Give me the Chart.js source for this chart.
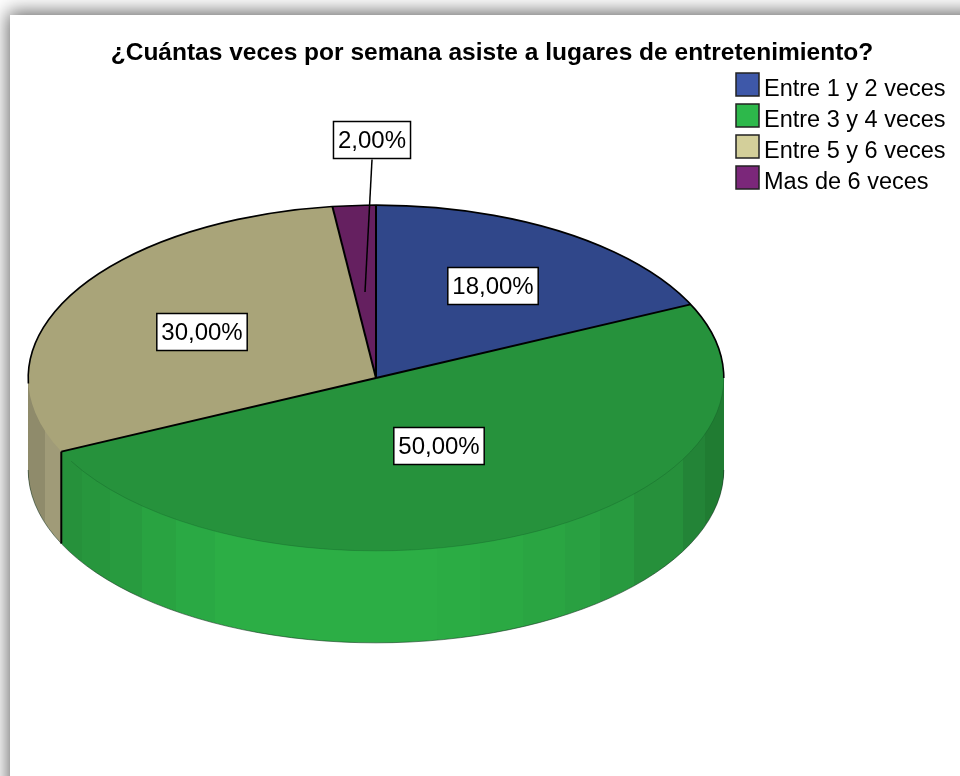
<!DOCTYPE html>
<html>
<head>
<meta charset="utf-8">
<script src="https://cdn.jsdelivr.net/npm/chart.js@4"></script>
<style>
    html, body { margin: 0; padding: 0; background: #fff; overflow: hidden; }
    #page { position: absolute; left: 10px; top: 15px; width: 1000px; height: 800px; background: #fff; box-shadow: -2px -3px 18px #666; }
    #pie { position: absolute; left: 0; top: 0; }
</style>
</head>
<body>
<div id="page"></div>
<canvas id="pie" width="960" height="776"></canvas>
<script>
const title = '¿Cuántas veces por semana asiste a lugares de entretenimiento?';
const categories = ['Entre 1 y 2 veces', 'Entre 3 y 4 veces', 'Entre 5 y 6 veces', 'Mas de 6 veces'];
const percents = [18, 50, 30, 2];

const topColors = ['#30478a', '#26923c', '#a9a479', '#652060'];
const legendColors = ['#3e58a9', '#2db84b', '#d3cf9a', '#7b277a'];

// the pie is laid out flat by Chart.js, then squashed onto this spot
const pieX = 376;
const pieY = 378;
const squash = 0.497;
const depth = 92;

// side wall facets: [right edge as a fraction of the pie width, colour]
const greenWall = [
    [0.078, '#26913b'], [0.117, '#27963d'], [0.164, '#289b3f'], [0.213, '#29a341'], [0.268, '#2aa944'],
    [0.587, '#2cae45'], [0.649, '#2bac44'], [0.711, '#2ba943'], [0.771, '#2aa542'], [0.822, '#29a041'],
    [0.871, '#289a3f'], [0.942, '#26903b'], [0.973, '#238437'], [1, '#207c32'],
];
const tanWall = [[0.024, '#8f8b6b'], [1, '#a09b78']];
const walls = [tanWall, greenWall, tanWall, tanWall];

// label box centres and the leader end, in pixels from the pie centre
const labelOffsets = [[117, -92], [63, 68], [-174, -46], [-4, -238]];
const leaderEnds = [null, null, null, [-11, -86]];

const fmt = (v) => v.toFixed(2).replace('.', ',') + '%';

function wallFill(ctx, arc, stops) {
    const left = arc.x - arc.outerRadius;
    const grad = ctx.createLinearGradient(left, 0, left + arc.outerRadius * 2, 0);
    let from = 0;
    stops.forEach(([to, color]) => {
        grad.addColorStop(from, color);
        grad.addColorStop(to, color);
        from = to;
    });
    return grad;
}

const slabPlugin = {
    id: 'slab',
    beforeDatasetDraw(chart) {
        const ctx = chart.ctx;
        const arcs = chart.getDatasetMeta(0).data;
        const a = arcs[0];
        ctx.save();
        ctx.translate(pieX, pieY);
        ctx.scale(1, squash);
        ctx.translate(-a.x, -a.y);

        // front slices last so they cover what is behind them
        const midY = (arc) => Math.sin((arc.startAngle + arc.endAngle) / 2);
        const order = arcs.map((arc, i) => i).sort((p, q) => midY(arcs[p]) - midY(arcs[q]));
        order.forEach((i) => {
            const arc = arcs[i];
            const saved = arc.options;
            const opts = Object.create(saved);
            opts.backgroundColor = wallFill(ctx, arc, walls[i]);
            opts.borderWidth = 0;
            arc.options = opts;
            for (let d = depth; d > 0; d--) {
                ctx.save();
                ctx.translate(0, d / squash);
                arc.draw(ctx);
                ctx.restore();
            }
            arc.options = saved;
        });
    },
    afterDatasetDraw(chart) {
        const ctx = chart.ctx;
        ctx.restore();

        const arcs = chart.getDatasetMeta(0).data;
        const r = arcs[0].outerRadius;
        const rimX = (ang) => pieX + Math.cos(ang) * r;
        const rimY = (ang) => pieY + Math.sin(ang) * r * squash;

        // faint front rim and bottom edge
        ctx.lineWidth = 0.6;
        ctx.strokeStyle = 'rgba(10,70,30,0.4)';
        ctx.beginPath();
        ctx.ellipse(pieX, pieY, r, r * squash, 0, 0, Math.PI * 0.84);
        ctx.stroke();
        ctx.lineWidth = 0.8;
        ctx.strokeStyle = 'rgba(20,50,30,0.7)';
        ctx.beginPath();
        ctx.ellipse(pieX, pieY + depth, r, r * squash, 0, 0, Math.PI);
        ctx.stroke();

        // back rim
        ctx.lineWidth = 1.6;
        ctx.strokeStyle = '#000';
        ctx.beginPath();
        ctx.ellipse(pieX, pieY, r, r * squash, 0, Math.PI * 0.99, Math.PI * 2.0);
        ctx.stroke();

        // slice edges
        ctx.lineWidth = 2;
        arcs.forEach((arc) => {
            ctx.beginPath();
            ctx.moveTo(pieX, pieY);
            ctx.lineTo(rimX(arc.startAngle), rimY(arc.startAngle));
            ctx.stroke();
        });

        // the cut where the wall shows
        const cut = arcs[1].endAngle;
        ctx.beginPath();
        ctx.moveTo(rimX(cut), rimY(cut));
        ctx.lineTo(rimX(cut), rimY(cut) + depth);
        ctx.stroke();

        // value labels
        ctx.font = '24px "Liberation Sans"';
        ctx.textAlign = 'center';
        ctx.textBaseline = 'middle';
        percents.forEach((v, i) => {
            const text = fmt(v);
            const cx = pieX + labelOffsets[i][0];
            const cy = pieY + labelOffsets[i][1];
            const w = ctx.measureText(text).width + 9;
            const h = 37;
            if (leaderEnds[i]) {
                ctx.lineWidth = 1.5;
                ctx.beginPath();
                ctx.moveTo(cx, cy + h / 2 + 1);
                ctx.lineTo(pieX + leaderEnds[i][0], pieY + leaderEnds[i][1]);
                ctx.stroke();
            }
            ctx.fillStyle = '#fff';
            ctx.fillRect(cx - w / 2, cy - h / 2, w, h);
            ctx.lineWidth = 1.5;
            ctx.strokeRect(cx - w / 2, cy - h / 2, w, h);
            ctx.fillStyle = '#000';
            ctx.fillText(text, cx, cy + 1);
        });
    },
    afterDraw(chart) {
        const ctx = chart.ctx;
        ctx.save();
        ctx.font = '23.5px "Liberation Sans"';
        ctx.textAlign = 'left';
        ctx.textBaseline = 'middle';
        categories.forEach((name, i) => {
            const y = 73 + i * 31;
            ctx.fillStyle = legendColors[i];
            ctx.fillRect(736, y, 23, 23);
            ctx.strokeStyle = '#222';
            ctx.lineWidth = 1.5;
            ctx.strokeRect(736, y, 23, 23);
            ctx.fillStyle = '#000';
            ctx.fillText(name, 764, y + 17);
        });
        ctx.restore();
    },
};

new Chart(document.getElementById('pie'), {
    type: 'pie',
    data: {
        labels: categories,
        datasets: [{
            data: percents,
            backgroundColor: topColors,
            borderWidth: 0,
            clip: false,
        }],
    },
    options: {
        responsive: false,
        animation: false,
        events: [],
        layout: { padding: { left: 24, right: 0, top: 0, bottom: 12 } },
        plugins: {
            legend: { display: false },
            tooltip: { enabled: false },
            title: {
                display: true,
                text: title,
                color: '#000',
                font: { family: '"Liberation Sans"', size: 24.5, weight: 'bold' },
                padding: { top: 39, bottom: 0 },
            },
        },
    },
    plugins: [slabPlugin],
});
</script>
</body>
</html>
